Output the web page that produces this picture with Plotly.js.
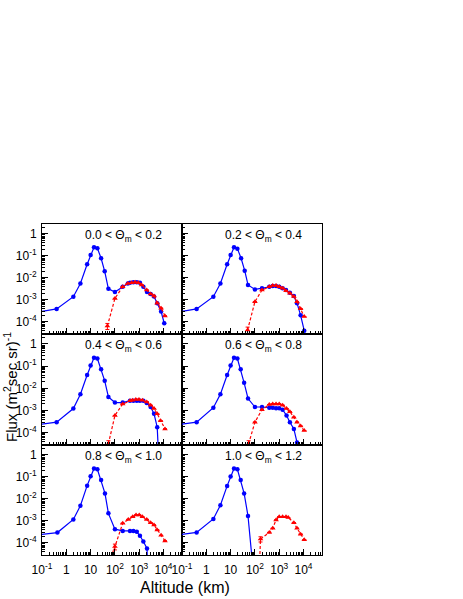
<!DOCTYPE html>
<html>
<head>
<meta charset="utf-8">
<script src="https://cdn.plot.ly/plotly-3.0.1.min.js"></script>
<style>
  html, body { margin: 0; padding: 0; background: #fff; }
  #graphDiv { width: 463px; height: 599px; }
</style>
</head>
<body>
<div id="graphDiv"></div>
<script>
let panelLabels = [
  "0.0 &lt; Θ<sub>m</sub> &lt; 0.2", "0.2 &lt; Θ<sub>m</sub> &lt; 0.4",
  "0.4 &lt; Θ<sub>m</sub> &lt; 0.6", "0.6 &lt; Θ<sub>m</sub> &lt; 0.8",
  "0.8 &lt; Θ<sub>m</sub> &lt; 1.0", "1.0 &lt; Θ<sub>m</sub> &lt; 1.2"
];

let altTicks = [0.1, 1, 10, 100, 1000, 10000];
let altTickText = ["10<sup>-1</sup>", "1", "10", "10<sup>2</sup>", "10<sup>3</sup>", "10<sup>4</sup>"];
let fluxTicks = [1e-4, 1e-3, 1e-2, 1e-1, 1];
let fluxTickText = ["10<sup>-4</sup>", "10<sup>-3</sup>", "10<sup>-2</sup>", "10<sup>-1</sup>", "1"];

// altitude in km, flux in (m^2 sec sr)^-1, one list per panel
let blueAlt = [
  [0.05, 0.4, 1.95, 3.8, 7.2, 10, 13.8, 19, 27, 38, 54, 100, 209, 340, 417, 575, 794, 1070, 1480, 2090, 2950, 4070, 5500, 7940, 10700],
  [0.05, 0.4, 1.95, 3.8, 7.2, 10, 13.8, 19, 27, 38, 52, 100, 195, 390, 540, 740, 1000, 1380, 1900, 2750, 4000, 5400, 7600, 10700],
  [0.05, 0.4, 1.95, 3.8, 7.2, 10, 13.8, 19, 27, 38, 54, 100, 209, 417, 575, 794, 1070, 1480, 2040, 2950, 4070, 5500, 7600],
  [0.05, 0.4, 1.95, 3.8, 7.2, 10, 13.8, 19, 26, 36, 52, 100, 195, 390, 540, 740, 1000, 1380, 2000, 2750, 4000, 5400, 7100],
  [0.05, 0.43, 1.95, 3.8, 7.2, 10, 13.8, 19, 27, 39, 54, 100, 209, 417, 575, 794, 1070, 1480, 2090, 2600],
  [0.05, 0.4, 1.95, 3.8, 7.2, 10, 13.8, 19, 26, 36, 52, 100]
];
let blueFlux = [
  [2.6e-4, 3.9e-4, 1.4e-3, 5.6e-3, 0.042, 0.11, 0.245, 0.224, 0.078, 0.020, 3.2e-3, 2.3e-3, 4.0e-3, 5.6e-3, 6.0e-3, 6.3e-3, 6.3e-3, 6.0e-3, 4.0e-3, 2.3e-3, 1.86e-3, 1.41e-3, 7.1e-4, 2.95e-4, 8.7e-5],
  [2.6e-4, 3.9e-4, 1.4e-3, 5.6e-3, 0.042, 0.11, 0.245, 0.214, 0.078, 0.0214, 4.8e-3, 3.0e-3, 3.4e-3, 4.0e-3, 4.3e-3, 4.3e-3, 4.0e-3, 3.4e-3, 2.8e-3, 2.14e-3, 1.51e-3, 7.1e-4, 2.0e-4, 4.0e-5],
  [2.2e-4, 3.0e-4, 1.23e-3, 5.5e-3, 0.040, 0.107, 0.24, 0.22, 0.072, 0.0219, 4.1e-3, 2.3e-3, 2.3e-3, 2.8e-3, 2.8e-3, 2.8e-3, 2.8e-3, 2.8e-3, 2.2e-3, 1.45e-3, 7.2e-4, 1.78e-4, 1e-7],
  [2.2e-4, 3.0e-4, 1.35e-3, 5.5e-3, 0.040, 0.107, 0.24, 0.22, 0.072, 0.0178, 3.5e-3, 1.45e-3, 1.45e-3, 1.35e-3, 1.35e-3, 1.26e-3, 1.26e-3, 1.1e-3, 6.0e-4, 3.0e-4, 1.5e-4, 3.7e-5, 1e-7],
  [2.2e-4, 2.95e-4, 1.17e-3, 4.9e-3, 0.040, 0.107, 0.24, 0.22, 0.072, 0.0178, 2.2e-3, 4.2e-4, 3.5e-4, 3.5e-4, 3.5e-4, 3.2e-4, 2.1e-4, 1.15e-4, 5.6e-5, 1e-7],
  [2.2e-4, 3.0e-4, 1.23e-3, 5.2e-3, 0.039, 0.105, 0.24, 0.22, 0.072, 0.0178, 1.66e-3, 8e-7]
];
let redAlt = [
  [49, 100, 209, 340, 490, 676, 912, 1260, 2040, 2950, 4070, 5500, 7940, 11500],
  [50, 100, 195, 390, 540, 740, 1000, 1380, 1900, 2750, 4000, 5400, 7600, 10700],
  [54, 100, 209, 417, 525, 724, 977, 1350, 2040, 2950, 4070, 5500, 7600, 11500],
  [55, 100, 195, 390, 540, 740, 1000, 1380, 2000, 2750, 4000, 5400, 7600, 10700],
  [56, 100, 209, 355, 540, 740, 1000, 1350, 2040, 2950, 4070, 5500, 7940, 11500],
  [130, 170, 390, 540, 740, 1000, 1380, 1900, 2340, 4000, 5400, 7600, 10700]
];
let redFlux = [
  [6.5e-5, 1.17e-3, 4.0e-3, 5.6e-3, 6.0e-3, 6.3e-3, 6.0e-3, 4.8e-3, 2.8e-3, 1.86e-3, 1.5e-3, 7.1e-4, 4.2e-4, 1.86e-4],
  [4.3e-5, 8.3e-4, 2.8e-3, 4.0e-3, 4.5e-3, 4.5e-3, 4.0e-3, 3.4e-3, 2.6e-3, 2.0e-3, 1.41e-3, 8.3e-4, 4.0e-4, 1.74e-4],
  [3.2e-5, 6.0e-4, 2.0e-3, 2.8e-3, 2.9e-3, 3.2e-3, 3.2e-3, 2.9e-3, 2.45e-3, 1.74e-3, 1.23e-3, 7.2e-4, 3.5e-4, 1.5e-4],
  [3.2e-5, 3.0e-4, 1.1e-3, 1.86e-3, 2.0e-3, 2.0e-3, 2.0e-3, 1.74e-3, 1.23e-3, 8.9e-4, 5.0e-4, 3.0e-4, 2.0e-4, 1.26e-4],
  [1.26e-5, 6.8e-5, 7.8e-4, 1.17e-3, 1.55e-3, 1.86e-3, 1.86e-3, 1.55e-3, 1.17e-3, 8.3e-4, 6.5e-4, 3.9e-4, 2.2e-4, 1.23e-4],
  [1e-7, 1.5e-4, 3.0e-4, 4.6e-4, 1.1e-3, 1.55e-3, 1.55e-3, 1.55e-3, 1.41e-3, 8.3e-4, 4.6e-4, 2.5e-4, 1.38e-4]
];
let redErr = [
  [2e-5, 0, 0, 0, 0, 0, 0, 0, 0, 0, 0, 0, 0, 0],
  [1.5e-5, 0, 0, 0, 0, 0, 0, 0, 0, 0, 0, 0, 0, 0],
  [1.2e-5, 0, 0, 0, 0, 0, 0, 0, 0, 0, 0, 0, 0, 0],
  [1.2e-5, 0, 0, 0, 0, 0, 0, 0, 0, 0, 0, 0, 0, 0],
  [0, 2e-5, 0, 0, 0, 0, 0, 0, 0, 0, 0, 0, 0, 0],
  [0, 4e-5, 0, 0, 0, 0, 0, 0, 0, 0, 0, 0, 0]
];

const W = 463, H = 599;
let colEdges = [42, 182, 322];
let rowEdges = [224, 334, 445, 555];
let font = "Liberation Sans, Arial, sans-serif";

let data = [];
let layout = {
  width: W,
  height: H,
  margin: { l: 0, r: 0, t: 0, b: 0 },
  paper_bgcolor: "white",
  plot_bgcolor: "white",
  showlegend: false,
  font: { family: font, size: 12, color: "black" },
  annotations: []
};

function axisBase() {
  return {
    type: "log",
    showline: true,
    linecolor: "black",
    linewidth: 1,
    mirror: true,
    showgrid: false,
    zeroline: false,
    ticks: "inside",
    ticklen: 6,
    tickcolor: "black",
    tickangle: 0,
    minor: { ticks: "inside", ticklen: 3, tickcolor: "black", dtick: "D1", showgrid: false },
    tickfont: { family: font, size: 12, color: "black" }
  };
}

panelLabels.forEach((label, i) => {
  let row = Math.floor(i / 2);
  let col = i % 2;
  let n = i === 0 ? "" : String(i + 1);
  let xa = "x" + n, ya = "y" + n;

  let xaxis = axisBase();
  xaxis.domain = [colEdges[col] / W, colEdges[col + 1] / W];
  xaxis.range = [-1, 4.76];
  xaxis.anchor = ya;
  xaxis.tickvals = altTicks;
  xaxis.ticktext = altTickText;
  xaxis.showticklabels = row === 2;
  xaxis.ticklabelstandoff = 4;

  let yaxis = axisBase();
  yaxis.domain = [1 - rowEdges[row + 1] / H, 1 - rowEdges[row] / H];
  yaxis.range = [-4.55, 0.45];
  yaxis.anchor = xa;
  yaxis.tickvals = fluxTicks;
  yaxis.ticktext = fluxTickText;
  yaxis.showticklabels = col === 0;
  yaxis.ticklabelstandoff = 2;

  layout["xaxis" + n] = xaxis;
  layout["yaxis" + n] = yaxis;

  data.push({
    type: "scatter",
    mode: "lines+markers",
    x: blueAlt[i],
    y: blueFlux[i],
    xaxis: xa,
    yaxis: ya,
    line: { color: "#0000ff", width: 1.2 },
    marker: { color: "#0000ff", size: 4.5, symbol: "circle" }
  });

  data.push({
    type: "scatter",
    mode: "lines+markers",
    x: redAlt[i],
    y: redFlux[i],
    xaxis: xa,
    yaxis: ya,
    line: { color: "#ff0000", width: 1.2, dash: "3px,2px" },
    marker: { color: "#ff0000", size: 5, symbol: "triangle-up" },
    error_y: { type: "data", array: redErr[i], color: "#ff0000", thickness: 1, width: 2 }
  });

  layout.annotations.push({
    text: label,
    xref: xa + " domain",
    yref: ya + " domain",
    x: 0.58,
    y: 1 - 12 / 110,
    xanchor: "center",
    yanchor: "middle",
    showarrow: false,
    font: { family: font, size: 12, color: "black" }
  });
});

layout.annotations.push({
  text: "Flux (m<sup>2</sup>sec sr)<sup>-1</sup>",
  xref: "paper",
  yref: "paper",
  x: 10 / W,
  y: 1 - 387 / H,
  xanchor: "center",
  yanchor: "middle",
  textangle: -90,
  showarrow: false,
  font: { family: font, size: 15, color: "black" }
});

layout.annotations.push({
  text: "Altitude (km)",
  xref: "paper",
  yref: "paper",
  x: 185 / W,
  y: 1 - 587 / H,
  xanchor: "center",
  yanchor: "middle",
  showarrow: false,
  font: { family: font, size: 16, color: "black" }
});

Plotly.newPlot("graphDiv", data, layout, { staticPlot: true });
</script>
</body>
</html>
